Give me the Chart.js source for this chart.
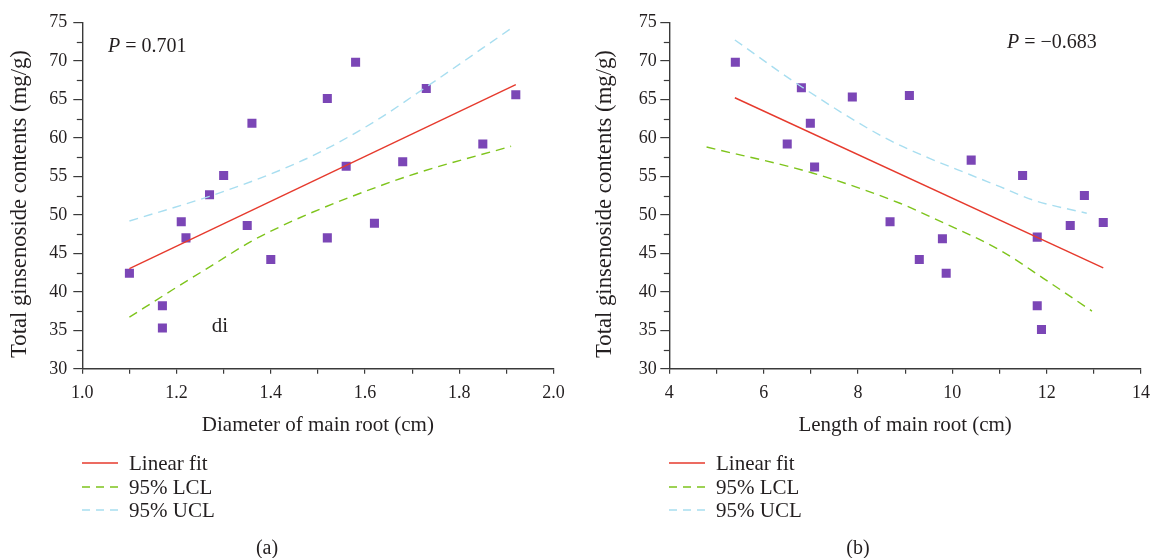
<!DOCTYPE html>
<html><head><meta charset="utf-8">
<script src="https://cdn.jsdelivr.net/npm/chart.js@4.4.1/dist/chart.umd.min.js"></script>
<style>
html,body{margin:0;padding:0;background:#fff;width:1153px;height:558px;overflow:hidden;position:relative}
#wrapA{position:absolute;left:0;top:0;width:576px;height:558px}
#wrapB{position:absolute;left:576px;top:0;width:584px;height:558px}
canvas{display:block}
</style></head><body>
<div id="wrapA"><canvas id="cA" width="576" height="558"></canvas></div>
<div id="wrapB"><canvas id="cB" width="584" height="558"></canvas></div>
<script>
// ---------- Data: panel (a) ----------
const diameter = [1.58, 1.52, 1.36, 1.73, 1.92, 1.30, 1.56, 1.68, 1.85, 1.27, 1.21, 1.22, 1.35, 1.40, 1.52, 1.62, 1.10, 1.17, 1.17];
const contentA = [69.8, 65.1, 61.9, 66.4, 65.6, 55.1, 56.3, 56.9, 59.2, 52.6, 49.1, 47.0, 48.6, 44.2, 47.0, 48.9, 42.4, 38.2, 35.3];
const fitAX = [1.10, 1.92];
const fitAY = [43.0, 66.9];
const lclAX = [1.10, 1.19, 1.28, 1.36, 1.45, 1.56, 1.71, 1.91];
const lclAY = [36.7, 40.2, 43.6, 46.6, 49.3, 52.1, 55.4, 58.9];
const uclAX = [1.10, 1.27, 1.40, 1.50, 1.62, 1.73, 1.91];
const uclAY = [49.2, 52.4, 55.3, 58.0, 62.1, 66.6, 74.2];
const pTextA = '0.701';

// ---------- Data: panel (b) ----------
const lengthB = [5.40, 6.80, 7.88, 9.09, 6.99, 6.50, 7.08, 10.40, 11.49, 12.80, 8.68, 9.79, 9.30, 9.87, 11.80, 12.50, 13.20, 11.80, 11.89];
const contentB = [69.8, 66.5, 65.3, 65.5, 61.9, 59.2, 56.2, 57.1, 55.1, 52.5, 49.1, 46.9, 44.2, 42.4, 47.1, 48.6, 49.0, 38.2, 35.1];
const fitBX = [5.39, 13.20];
const fitBY = [65.2, 43.1];
const lclBX = [4.79, 7.05, 8.89, 9.53, 11.01, 11.93, 12.96];
const lclBY = [58.8, 55.4, 51.5, 49.75, 45.4, 41.75, 37.5];
const uclBX = [5.39, 6.81, 8.54, 9.53, 10.38, 11.01, 11.72, 12.85];
const uclBY = [72.7, 66.6, 60.1, 57.3, 55.2, 53.65, 51.9, 50.2];
const pTextB = '\u22120.683';

// ---------- Axis ticks ----------
const yMin = 30, yMax = 75, yStep = 5;
const yMinorTicks = [32.5, 37.5, 42.5, 47.5, 52.5, 57.5, 62.5, 67.5, 72.5];
const xA = {min: 1.0, max: 2.0, step: 0.1, labelEvery: 0.2};
const xB = {min: 4, max: 14, step: 1, labelEvery: 2};
const legendLabels = ['Linear fit', '95% LCL', '95% UCL'];
const yTitle = 'Total ginsenoside contents (mg/g)';

const FONT = '"Liberation Serif", "Times New Roman", serif';
const TEXT = '#231f20';
const AXIS = '#3a3a3a';
const C_PT = '#7b46b6', C_FIT = '#e63a2d', C_LCL = '#7ec41c', C_UCL = '#a8def0';

function pts(xs, ys) { return xs.map((x, i) => ({x: x, y: ys[i]})); }

const overlay = {
  id: 'overlay',
  afterDraw(chart) {
    const o = chart.options.plugins.overlay;
    const ctx = chart.ctx;
    const ys = chart.scales.y;
    ctx.save();
    // minor y ticks
    ctx.strokeStyle = AXIS; ctx.lineWidth = 1.2;
    yMinorTicks.forEach(v => {
      const p = Math.round(ys.getPixelForValue(v)) + 0.5;
      ctx.beginPath(); ctx.moveTo(ys.right - 5.5, p); ctx.lineTo(ys.right, p); ctx.stroke();
    });
    // legend
    ctx.font = '21px ' + FONT; ctx.fillStyle = TEXT; ctx.textBaseline = 'middle'; ctx.textAlign = 'left';
    [1, 2, 3].forEach((di, i) => {
      const ds = chart.data.datasets[di];
      const yy = o.legY[i];
      ctx.strokeStyle = ds.borderColor; ctx.lineWidth = 1.4;
      ctx.setLineDash(ds.borderDash ? [8, 6] : []);
      ctx.beginPath(); ctx.moveTo(o.legX, yy); ctx.lineTo(o.legX + 36, yy); ctx.stroke();
      ctx.setLineDash([]);
      ctx.fillText(ds.label, o.legX + 47, yy + 1);
    });
    // P annotation
    ctx.font = 'italic 20px ' + FONT;
    ctx.fillText('P', o.pX, o.pY);
    const w = ctx.measureText('P').width;
    ctx.font = '20px ' + FONT;
    ctx.fillText(' = ' + o.pVal, o.pX + w, o.pY);
    // caption
    ctx.textAlign = 'center';
    ctx.font = '20px ' + FONT;
    ctx.fillText(o.caption, o.capX, 549);
    if (o.extra) { ctx.font = '21px ' + FONT; ctx.fillText(o.extra.t, o.extra.x, o.extra.y); }
    ctx.restore();
  }
};

function makeChart(id, d) {
  return new Chart(document.getElementById(id), {
    type: 'scatter',
    data: { datasets: [
      {label: 'Samples', data: pts(d.px, d.py), pointStyle: 'rect', pointRadius: 6.4, pointHoverRadius: 6.4,
       backgroundColor: C_PT, borderColor: C_PT, borderWidth: 0, showLine: false, order: 10},
      {label: legendLabels[0], data: pts(d.fitX, d.fitY), showLine: true, borderColor: C_FIT, borderWidth: 1.4, pointRadius: 0, order: 1},
      {label: legendLabels[1], data: pts(d.lclX, d.lclY), showLine: true, borderColor: C_LCL, borderWidth: 1.4, borderDash: [9, 6],
       pointRadius: 0, cubicInterpolationMode: 'monotone', order: 2},
      {label: legendLabels[2], data: pts(d.uclX, d.uclY), showLine: true, borderColor: C_UCL, borderWidth: 1.4, borderDash: [9, 6],
       pointRadius: 0, cubicInterpolationMode: 'monotone', order: 3}
    ]},
    options: {
      responsive: false, animation: false, devicePixelRatio: 1,
      layout: {padding: {left: 0, top: 22.3, right: d.padR, bottom: 120.2}},
      plugins: {legend: {display: false}, tooltip: {enabled: false}, overlay: d.overlay},
      scales: {
        x: {
          type: 'linear', min: d.xs.min, max: d.xs.max,
          afterFit: s => { s.height = 69; },
          afterBuildTicks: s => {
            const t = []; const n = Math.round((d.xs.max - d.xs.min) / d.xs.step);
            for (let i = 0; i <= n; i++) t.push({value: +(d.xs.min + i * d.xs.step).toFixed(4)});
            s.ticks = t;
          },
          ticks: {
            autoSkip: false, maxRotation: 0, padding: 9, color: TEXT, font: {family: FONT, size: 18},
            callback: v => {
              const r = v / d.xs.labelEvery;
              return Math.abs(r - Math.round(r)) < 1e-6 ? (d.xs.step < 1 ? v.toFixed(1) : String(v)) : '';
            }
          },
          grid: {drawOnChartArea: false, drawTicks: true, tickLength: 5, color: AXIS, lineWidth: 1.2},
          border: {display: true, color: AXIS, width: 1.4},
          title: {display: true, text: d.xTitle, color: TEXT, font: {family: FONT, size: 21}, padding: {top: 0, bottom: 0}}
        },
        y: {
          type: 'linear', min: yMin, max: yMax,
          afterFit: s => { s.width = d.yW; },
          ticks: {stepSize: yStep, padding: d.yPad, color: TEXT, font: {family: FONT, size: 18}},
          grid: {drawOnChartArea: false, drawTicks: true, tickLength: 9, color: AXIS, lineWidth: 1.2},
          border: {display: true, color: AXIS, width: 1.4},
          title: {display: true, text: yTitle + '\u00a0\u00a0\u00a0', color: TEXT,
                  font: {family: FONT, size: 22.7}, padding: {top: d.yTitlePad, bottom: 0}}
        }
      }
    },
    plugins: [overlay]
  });
}

makeChart('cA', {
  px: diameter, py: contentA, fitX: fitAX, fitY: fitAY, lclX: lclAX, lclY: lclAY, uclX: uclAX, uclY: uclAY,
  xs: xA, padR: 22.5, yW: 82.3, yPad: 6, yTitlePad: 6.4, xTitle: 'Diameter of main root (cm)',
  overlay: {legX: 82, legY: [463, 487, 510], pX: 108, pY: 47, pVal: pTextA, caption: '(a)', capX: 267,
            extra: {t: 'di', x: 220, y: 326}}
});
makeChart('cB', {
  px: lengthB, py: contentB, fitX: fitBX, fitY: fitBY, lclX: lclBX, lclY: lclBY, uclX: uclBX, uclY: uclBY,
  xs: xB, padR: 19, yW: 93.3, yPad: 3.6, yTitlePad: 15.4, xTitle: 'Length of main root (cm)',
  overlay: {legX: 93, legY: [463, 487, 510], pX: 431, pY: 43, pVal: pTextB, caption: '(b)', capX: 282}
});
</script>
</body></html>
